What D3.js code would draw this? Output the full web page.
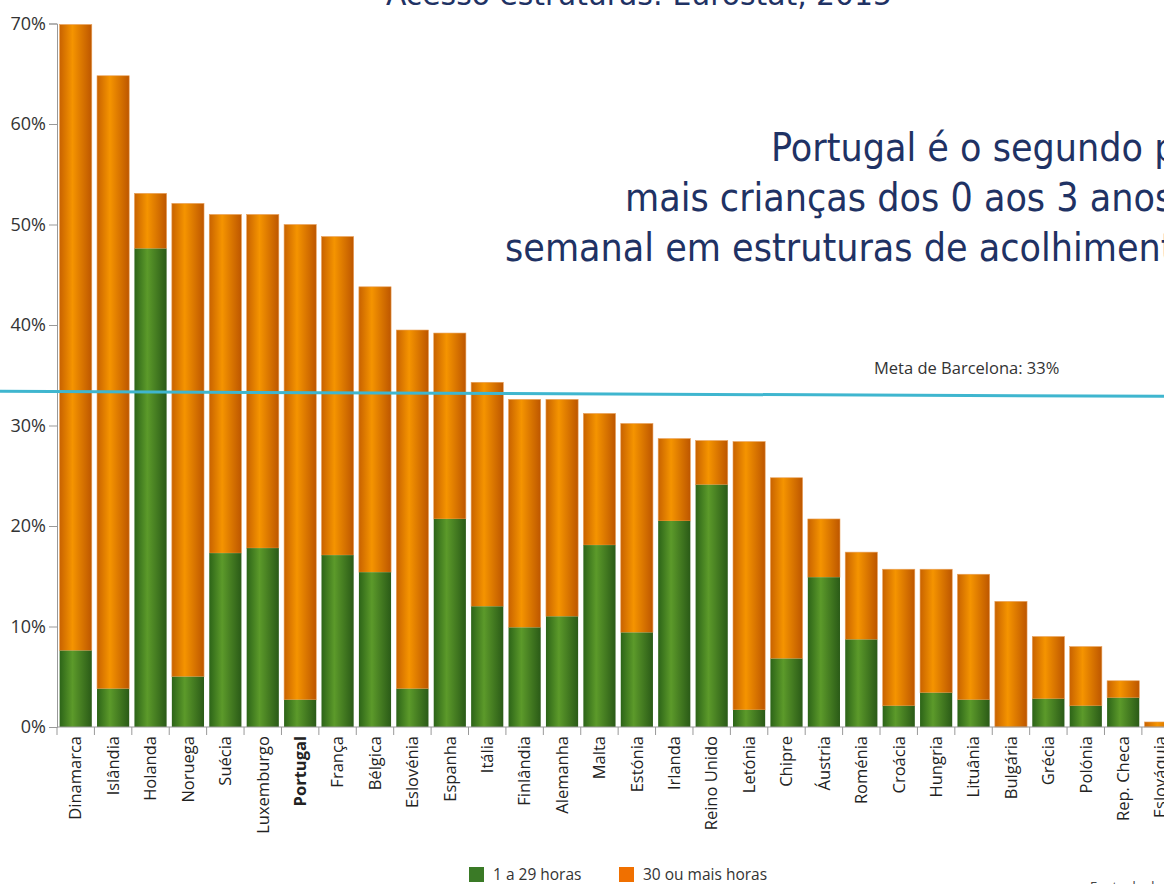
<!DOCTYPE html>
<html lang="en">
<head>
<meta charset="utf-8">
<script src="https://d3js.org/d3.v7.min.js"></script>
<style>
  body { margin: 0; background: #fff; }
  svg { display: block; }
</style>
</head>
<body>
</body>
<script type="text/javascript">

var countries = ["Dinamarca","Islândia","Holanda","Noruega","Suécia","Luxemburgo","Portugal","França","Bélgica","Eslovénia","Espanha","Itália","Finlândia","Alemanha","Malta","Estónia","Irlanda","Reino Unido","Letónia","Chipre","Áustria","Roménia","Croácia","Hungria","Lituânia","Bulgária","Grécia","Polónia","Rep. Checa","Eslováquia"]

// total share (1 hora ou mais) and the part with 1 a 29 horas
var totals = [69.9,64.8,53.1,52.1,51.0,51.0,50.0,48.8,43.8,39.5,39.2,34.3,32.6,32.6,31.2,30.2,28.7,28.5,28.4,24.8,20.7,17.4,15.7,15.7,15.2,12.5,9.0,8.0,4.6,0.5]
var under30 = [7.6,3.8,47.6,5.0,17.3,17.8,2.7,17.1,15.4,3.8,20.7,12.0,9.9,11.0,18.1,9.4,20.5,24.1,1.7,6.8,14.9,8.7,2.1,3.4,2.7,0,2.8,2.1,2.9,0]

var yTicks = [0,10,20,30,40,50,60,70]
var barcelona = [33.4, 32.9]   // line drawn slightly tilted in the original
var seriesNames = ["1 a 29 horas", "30 ou mais horas"]

var W = 1164, H = 884

var svg = d3.select("body")
  .append("svg")
  .attr("width", W)
  .attr("height", H)

var defs = svg.append("defs")

function gradient(id, edge, mid, edge2) {
  var g = defs.append("linearGradient").attr("id", id)
    .attr("x1", "0%").attr("x2", "100%").attr("y1", "0%").attr("y2", "0%")
  g.append("stop").attr("offset", "0%").attr("stop-color", edge)
  g.append("stop").attr("offset", "40%").attr("stop-color", mid)
  g.append("stop").attr("offset", "100%").attr("stop-color", edge2)
}
gradient("gOrange", "#c86200", "#f59400", "#bd5600")
gradient("gGreen", "#2c6418", "#5c9a2a", "#2a5a17")

var step = 37.41
var x = d3.scaleBand()
  .domain(countries)
  .range([57, 57 + step * countries.length])
  .paddingInner(0.14)
  .paddingOuter(0.07)

var y = d3.scaleLinear()
  .domain([0, 70])
  .range([727, 23.5])

var font = "'Open Sans', 'DejaVu Sans', sans-serif"
var bigFont = "'Liberation Sans Narrow', 'DejaVu Sans Condensed', sans-serif"

// top title (cut by the page edge)
svg.append("text")
  .attr("x", 386).attr("y", 5)
  .attr("textLength", 506).attr("lengthAdjust", "spacingAndGlyphs")
  .style("font-family", bigFont).style("font-size", "30px")
  .attr("fill", "#1f3264")
  .text("Acesso estruturas: Eurostat, 2015")

// bars
var bars = svg.append("g").selectAll("g")
  .data(countries)
  .enter().append("g")

bars.append("rect")
  .attr("x", d => x(d))
  .attr("width", x.bandwidth())
  .attr("y", (d, i) => y(totals[i]))
  .attr("height", (d, i) => y(under30[i]) - y(totals[i]))
  .attr("fill", "url(#gOrange)")
  .attr("stroke", "#e9a15a").attr("stroke-width", 0.6)

bars.append("rect")
  .attr("x", d => x(d))
  .attr("width", x.bandwidth())
  .attr("y", (d, i) => y(under30[i]))
  .attr("height", (d, i) => y(0) - y(under30[i]))
  .attr("fill", "url(#gGreen)")

// y axis
var yAxis = svg.append("g")
  .attr("transform", "translate(57,0)")
  .call(d3.axisLeft(y).tickValues(yTicks).tickFormat(d => d + "%").tickSize(8).tickPadding(3))
yAxis.select(".domain").attr("stroke", "#999")
yAxis.selectAll(".tick line").attr("stroke", "#999")
yAxis.selectAll(".tick text")
  .style("font-family", font).style("font-size", "18px").attr("fill", "#333")

// x axis line + boundary ticks
svg.append("line")
  .attr("x1", 57).attr("x2", W).attr("y1", y(0)).attr("y2", y(0))
  .attr("stroke", "#999")

var bounds = countries.map(d => x(d) - x.step() * 0.07)
svg.append("g").selectAll("line")
  .data(bounds)
  .enter().append("line")
  .attr("x1", d => d).attr("x2", d => d)
  .attr("y1", y(0)).attr("y2", y(0) + 8)
  .attr("stroke", "#999")

svg.append("g").selectAll("text")
  .data(countries)
  .enter().append("text")
  .attr("transform", d => "translate(" + (x(d) + x.bandwidth() / 2) + "," + (y(0) + 9) + ") rotate(-90)")
  .attr("dy", "0.35em")
  .attr("text-anchor", "end")
  .style("font-family", font).style("font-size", "16.5px")
  .style("font-weight", d => d == "Portugal" ? "bold" : "normal")
  .attr("fill", "#222")
  .text(d => d)

// Barcelona target
svg.append("line")
  .attr("x1", 0).attr("x2", W)
  .attr("y1", y(barcelona[0])).attr("y2", y(barcelona[1]))
  .attr("stroke", "#3fb6cf").attr("stroke-width", 3)

svg.append("text")
  .attr("x", 874).attr("y", 374)
  .style("font-family", font).style("font-size", "16.5px")
  .attr("fill", "#333")
  .text("Meta de Barcelona: 33%")

// annotation
var notes = [
  {t: "Portugal é o segundo país com", x: 771, y: 161},
  {t: "mais crianças dos 0 aos 3 anos com 30 ou", x: 625, y: 211},
  {t: "semanal em estruturas de acolhimento", x: 505, y: 261}
]
svg.append("g").selectAll("text")
  .data(notes)
  .enter().append("text")
  .attr("x", d => d.x).attr("y", d => d.y)
  .style("font-family", bigFont).style("font-size", "39px")
  .attr("fill", "#1f3264")
  .text(d => d.t)

// legend
var legColors = ["#3a7a26", "#f07000"]
var legX = [469, 619]
var leg = svg.append("g").selectAll("g")
  .data(seriesNames)
  .enter().append("g")
  .attr("transform", (d, i) => "translate(" + legX[i] + ",867)")
leg.append("rect").attr("width", 15).attr("height", 15).attr("fill", (d, i) => legColors[i])
leg.append("text")
  .attr("x", 24).attr("y", 13)
  .style("font-family", font).style("font-size", "15.5px")
  .attr("fill", "#333")
  .text(d => d)

svg.append("text")
  .attr("x", 1090).attr("y", 891)
  .style("font-family", font).style("font-size", "13px")
  .attr("fill", "#444")
  .text("Fonte de dados: Eurostat")

</script>
</html>
